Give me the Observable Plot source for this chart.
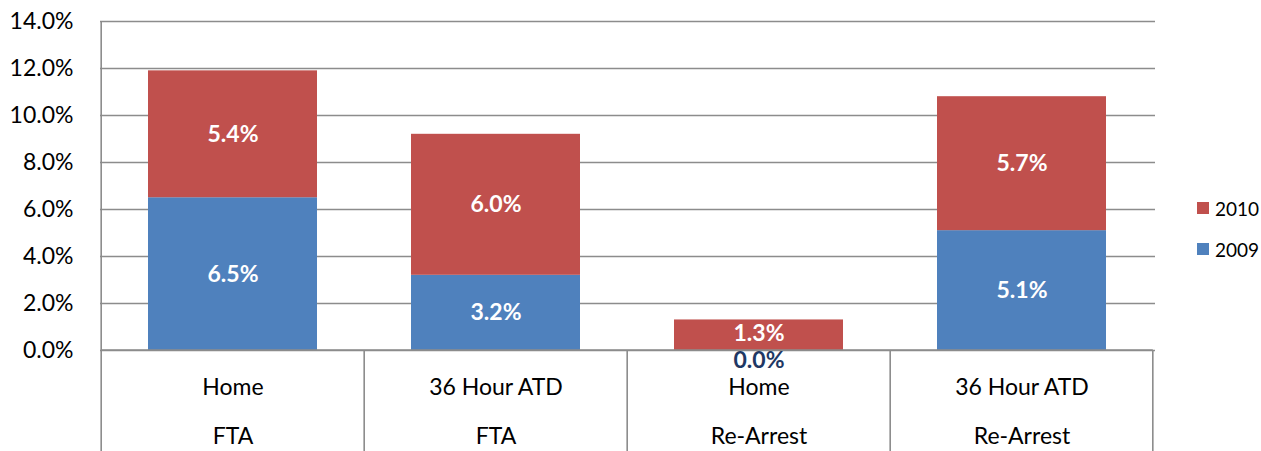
<!DOCTYPE html>
<html>
<head>
<meta charset="utf-8">
<script src="https://cdn.jsdelivr.net/npm/d3@7"></script>
<script src="https://cdn.jsdelivr.net/npm/@observablehq/plot@0.6"></script>
<style>
  html, body { margin: 0; padding: 0; background: #fff; }
  #wrap { position: relative; width: 1261px; height: 451px; overflow: hidden; font-family: Lato, "Open Sans", sans-serif; }
  #legend { position: absolute; left: 1197px; top: 194px; font-size: 19px; color: #000; }
  #legend .item { display: flex; align-items: center; height: 28px; margin-bottom: 13px; }
  #legend .sw { width: 12px; height: 12px; margin-right: 6px; }
</style>
</head>
<body>
<div id="wrap"><div id="legend"></div></div>
<script>
// ---- data ----
const categories = ["Home|FTA", "36 Hour ATD|FTA", "Home|Re-Arrest", "36 Hour ATD|Re-Arrest"];
const line1 = ["Home", "36 Hour ATD", "Home", "36 Hour ATD"];
const line2 = ["FTA", "FTA", "Re-Arrest", "Re-Arrest"];
const series = ["2009", "2010"];
const values2009 = [6.5, 3.2, 0.0, 5.1];
const values2010 = [5.4, 6.0, 1.3, 5.7];
const colors = ["#4F81BD", "#C0504D"];
const yTicks = [0, 2, 4, 6, 8, 10, 12, 14];

// ---- build table ----
const rows = [];
categories.forEach((c, i) => {
  rows.push({cat: c, series: "2009", value: values2009[i], mid: values2009[i] / 2});
  rows.push({cat: c, series: "2010", value: values2010[i], mid: values2009[i] + values2010[i] / 2});
});
const catRows = categories.map((c, i) => ({cat: c, l1: line1[i], l2: line2[i]}));
const isSmall = d => d.value < 2;

const W = 1261, H = 451;
const padInner = 0.356;
const font = 23;

const chart = Plot.plot({
  width: W,
  height: H,
  marginLeft: 100,
  marginRight: 106,
  marginTop: 21,
  marginBottom: 101,
  style: {fontFamily: "Lato, 'Open Sans', sans-serif", fontSize: font + "px", color: "#000", background: "#fff"},
  x: {domain: categories, paddingInner: padInner, paddingOuter: padInner / 2, axis: null},
  y: {domain: [0, 14], ticks: yTicks, tickFormat: d => d.toFixed(1) + "%", tickSize: 0, tickPadding: 27, label: null},
  color: {domain: series, range: colors},
  marks: [
    Plot.ruleY(yTicks, {stroke: "#8c8c8c", strokeWidth: 1.6}),
    Plot.barY(rows, Plot.stackY({x: "cat", y: "value", fill: "series", order: series})),
    Plot.text(rows.filter(d => d.value !== 0 && !isSmall(d)), {
      x: "cat", y: "mid", text: d => d.value.toFixed(1) + "%",
      fill: "#ffffff", fontWeight: "bold", fontSize: font
    }),
    Plot.text(rows.filter(d => d.value !== 0 && isSmall(d)), {
      x: "cat", y: "mid", text: d => d.value.toFixed(1) + "%",
      fill: "#ffffff", fontWeight: "bold", fontSize: font, dy: -2
    }),
    Plot.text(rows.filter(d => d.value === 0), {
      x: "cat", y: "mid", text: d => d.value.toFixed(1) + "%",
      fill: "#1F3864", fontWeight: "bold", fontSize: font, dy: 10
    }),
    Plot.text(catRows, {x: "cat", text: "l1", frameAnchor: "bottom", lineAnchor: "middle", dy: 37, fontSize: font, fill: "#000"}),
    Plot.text(catRows, {x: "cat", text: "l2", frameAnchor: "bottom", lineAnchor: "middle", dy: 86, fontSize: font, fill: "#000"})
  ]
});

document.getElementById("wrap").prepend(chart);

// separators & axis lines drawn from the library's x / y scales
const xs = chart.scale("x");
const ys = chart.scale("y");
const band = xs.bandwidth, step = xs.step;
const svg = d3.select(chart);
const y0 = ys.apply(0), yTop = ys.apply(14);
const bounds = categories.map(c => xs.apply(c) - step * padInner / 2);
bounds.push(xs.apply(categories[categories.length - 1]) + band + step * padInner / 2);
const g = svg.append("g").attr("stroke", "#8c8c8c").attr("stroke-width", 1.6);
g.append("line").attr("x1", bounds[0]).attr("x2", bounds[bounds.length - 1]).attr("y1", y0).attr("y2", y0);
bounds.forEach((b, i) => {
  g.append("line").attr("x1", b).attr("x2", b).attr("y1", i === 0 ? yTop : y0).attr("y2", H);
});

// legend (top-down: 2010 then 2009)
const legend = d3.select("#legend");
[1, 0].forEach(i => {
  const it = legend.append("div").attr("class", "item");
  it.append("div").attr("class", "sw").style("background", colors[i]);
  it.append("span").text(series[i]);
});
</script>
</body>
</html>
